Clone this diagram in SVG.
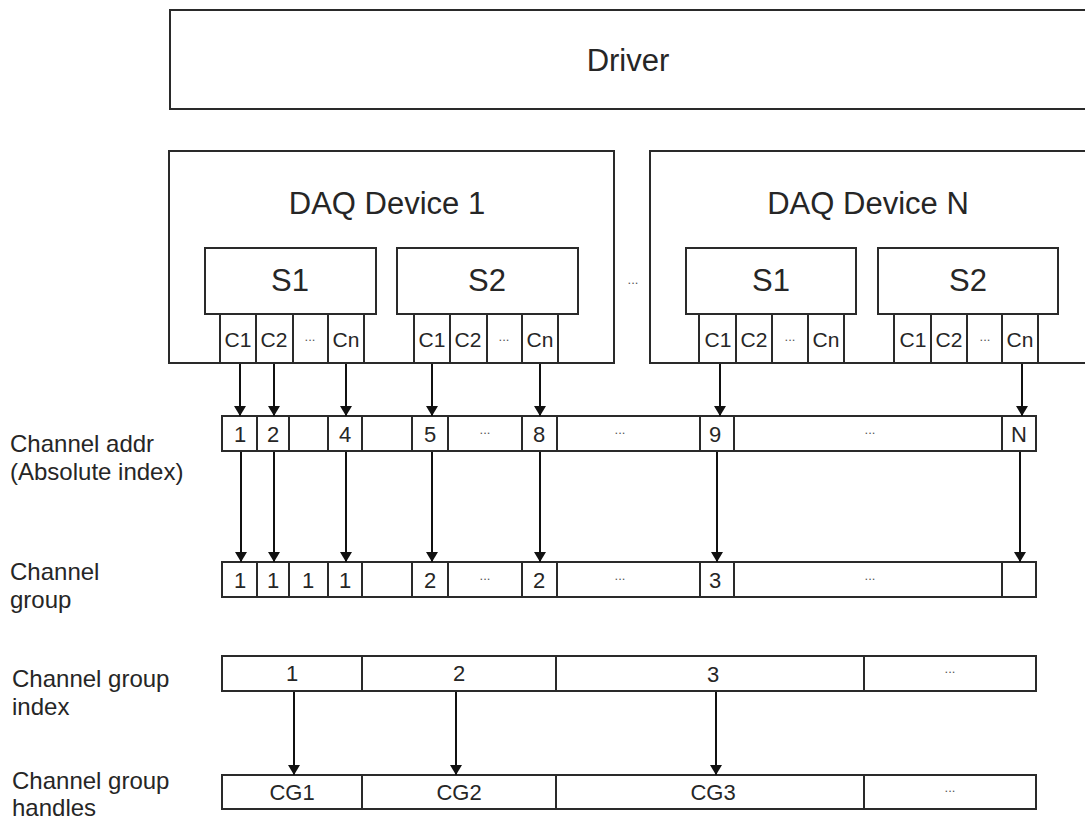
<svg xmlns="http://www.w3.org/2000/svg" width="1085" height="819" viewBox="0 0 1085 819">
<defs>
<marker id="ah" viewBox="0 0 10 12" refX="10" refY="6" markerWidth="10" markerHeight="12" markerUnits="userSpaceOnUse" orient="auto">
<path d="M0,0 L10,6 L0,12 Z" fill="#111"/>
</marker>
<style>
rect{fill:#fff;stroke:#2a2a2a;stroke-width:2}
text{font-family:"Liberation Sans",Arial,sans-serif;fill:#262626;text-anchor:middle}
.big{font-size:31px}
.ch{font-size:21px}
.num{font-size:22px}
.lbl{font-size:24px;text-anchor:start}
.dots{font-size:13px;fill:#555}
.arr line{stroke:#111;stroke-width:2;marker-end:url(#ah)}
</style>
</defs>
<rect x="0" y="0" width="1085" height="819" style="stroke:none;fill:#fff"/>

<g id="driver">
<rect x="170" y="10" width="925" height="99"/>
<text class="big" x="628" y="71">Driver</text>
</g>

<g id="device1">
<rect x="169" y="151" width="445" height="212"/>
<text class="big" x="387" y="214">DAQ Device 1</text>
<g id="d1s1">
<rect x="205" y="248" width="171" height="66"/>
<text class="big" x="290" y="291">S1</text>
<rect x="220" y="314" width="36" height="49"/>
<rect x="256" y="314" width="37" height="49"/>
<rect x="293" y="314" width="35" height="49"/>
<rect x="328" y="314" width="36" height="49"/>
<text class="ch" x="238" y="347">C1</text>
<text class="ch" x="274" y="347">C2</text>
<text class="dots" x="310" y="341">...</text>
<text class="ch" x="346" y="347">Cn</text>
</g>
<g id="d1s2">
<rect x="397" y="248" width="181" height="66"/>
<text class="big" x="487" y="291">S2</text>
<rect x="414" y="314" width="36" height="49"/>
<rect x="450" y="314" width="37" height="49"/>
<rect x="487" y="314" width="35" height="49"/>
<rect x="522" y="314" width="36" height="49"/>
<text class="ch" x="432" y="347">C1</text>
<text class="ch" x="468" y="347">C2</text>
<text class="dots" x="504" y="341">...</text>
<text class="ch" x="540" y="347">Cn</text>
</g>
</g>

<text id="devdots" class="dots" x="633" y="284">...</text>

<g id="deviceN">
<rect x="650" y="151" width="445" height="212"/>
<text class="big" x="868" y="214">DAQ Device N</text>
<g id="dns1">
<rect x="686" y="248" width="170" height="66"/>
<text class="big" x="771" y="291">S1</text>
<rect x="699" y="314" width="37" height="49"/>
<rect x="736" y="314" width="36" height="49"/>
<rect x="772" y="314" width="36" height="49"/>
<rect x="808" y="314" width="36" height="49"/>
<text class="ch" x="718" y="347">C1</text>
<text class="ch" x="754" y="347">C2</text>
<text class="dots" x="790" y="341">...</text>
<text class="ch" x="826" y="347">Cn</text>
</g>
<g id="dns2">
<rect x="878" y="248" width="180" height="66"/>
<text class="big" x="968" y="291">S2</text>
<rect x="894" y="314" width="37" height="49"/>
<rect x="931" y="314" width="36" height="49"/>
<rect x="967" y="314" width="35" height="49"/>
<rect x="1002" y="314" width="36" height="49"/>
<text class="ch" x="913" y="347">C1</text>
<text class="ch" x="949" y="347">C2</text>
<text class="dots" x="985" y="341">...</text>
<text class="ch" x="1020" y="347">Cn</text>
</g>
</g>

<g id="labels">
<text class="lbl" x="10" y="452">Channel addr</text>
<text class="lbl" x="10" y="480">(Absolute index)</text>
<text class="lbl" x="10" y="580">Channel</text>
<text class="lbl" x="10" y="608">group</text>
<text class="lbl" x="12" y="687">Channel group</text>
<text class="lbl" x="12" y="715">index</text>
<text class="lbl" x="12" y="789">Channel group</text>
<text class="lbl" x="12" y="816">handles</text>
</g>

<g id="addr-row">
<rect x="222" y="416" width="35" height="35"/>
<rect x="257" y="416" width="32" height="35"/>
<rect x="289" y="416" width="39" height="35"/>
<rect x="328" y="416" width="34" height="35"/>
<rect x="362" y="416" width="50" height="35"/>
<rect x="412" y="416" width="36" height="35"/>
<rect x="448" y="416" width="74" height="35"/>
<rect x="522" y="416" width="35" height="35"/>
<rect x="557" y="416" width="143" height="35"/>
<rect x="700" y="416" width="34" height="35"/>
<rect x="734" y="416" width="268" height="35"/>
<rect x="1002" y="416" width="34" height="35"/>
<text class="num" x="240" y="442">1</text>
<text class="num" x="273" y="442">2</text>
<text class="num" x="345" y="442">4</text>
<text class="num" x="430" y="442">5</text>
<text class="dots" x="485" y="434">...</text>
<text class="num" x="539" y="442">8</text>
<text class="dots" x="620" y="434">...</text>
<text class="num" x="715" y="442">9</text>
<text class="dots" x="870" y="434">...</text>
<text class="num" x="1019" y="442">N</text>
</g>

<g id="group-row">
<rect x="222" y="562" width="35" height="35"/>
<rect x="257" y="562" width="32" height="35"/>
<rect x="289" y="562" width="39" height="35"/>
<rect x="328" y="562" width="34" height="35"/>
<rect x="362" y="562" width="50" height="35"/>
<rect x="412" y="562" width="36" height="35"/>
<rect x="448" y="562" width="74" height="35"/>
<rect x="522" y="562" width="35" height="35"/>
<rect x="557" y="562" width="143" height="35"/>
<rect x="700" y="562" width="34" height="35"/>
<rect x="734" y="562" width="268" height="35"/>
<rect x="1002" y="562" width="34" height="35"/>
<text class="num" x="240" y="588">1</text>
<text class="num" x="273" y="588">1</text>
<text class="num" x="308" y="588">1</text>
<text class="num" x="345" y="588">1</text>
<text class="num" x="430" y="588">2</text>
<text class="dots" x="485" y="580">...</text>
<text class="num" x="539" y="588">2</text>
<text class="dots" x="620" y="580">...</text>
<text class="num" x="715" y="588">3</text>
<text class="dots" x="870" y="580">...</text>
</g>

<g id="index-row">
<rect x="222" y="656" width="140" height="35"/>
<rect x="362" y="656" width="194" height="35"/>
<rect x="556" y="656" width="308" height="35"/>
<rect x="864" y="656" width="172" height="35"/>
<text class="num" x="292" y="681">1</text>
<text class="num" x="459" y="681">2</text>
<text class="num" x="713" y="682">3</text>
<text class="dots" x="950" y="673">...</text>
</g>

<g id="handles-row">
<rect x="222" y="775" width="140" height="34"/>
<rect x="362" y="775" width="194" height="34"/>
<rect x="556" y="775" width="308" height="34"/>
<rect x="864" y="775" width="172" height="34"/>
<text class="num" x="292" y="800">CG1</text>
<text class="num" x="459" y="800">CG2</text>
<text class="num" x="713" y="800">CG3</text>
<text class="dots" x="950" y="792">...</text>
</g>

<g id="connectors" class="arr">
<line x1="240" y1="364" x2="240" y2="416"/>
<line x1="274" y1="364" x2="274" y2="416"/>
<line x1="346" y1="364" x2="346" y2="416"/>
<line x1="432" y1="364" x2="432" y2="416"/>
<line x1="540" y1="364" x2="540" y2="416"/>
<line x1="720" y1="364" x2="720" y2="416"/>
<line x1="1022" y1="364" x2="1022" y2="416"/>
<line x1="241" y1="452" x2="241" y2="562"/>
<line x1="274" y1="452" x2="274" y2="562"/>
<line x1="346" y1="452" x2="346" y2="562"/>
<line x1="432" y1="452" x2="432" y2="562"/>
<line x1="540" y1="452" x2="540" y2="562"/>
<line x1="717" y1="452" x2="717" y2="562"/>
<line x1="1020" y1="452" x2="1020" y2="562"/>
<line x1="294" y1="692" x2="294" y2="775"/>
<line x1="456" y1="692" x2="456" y2="775"/>
<line x1="716" y1="692" x2="716" y2="775"/>
</g>
</svg>
